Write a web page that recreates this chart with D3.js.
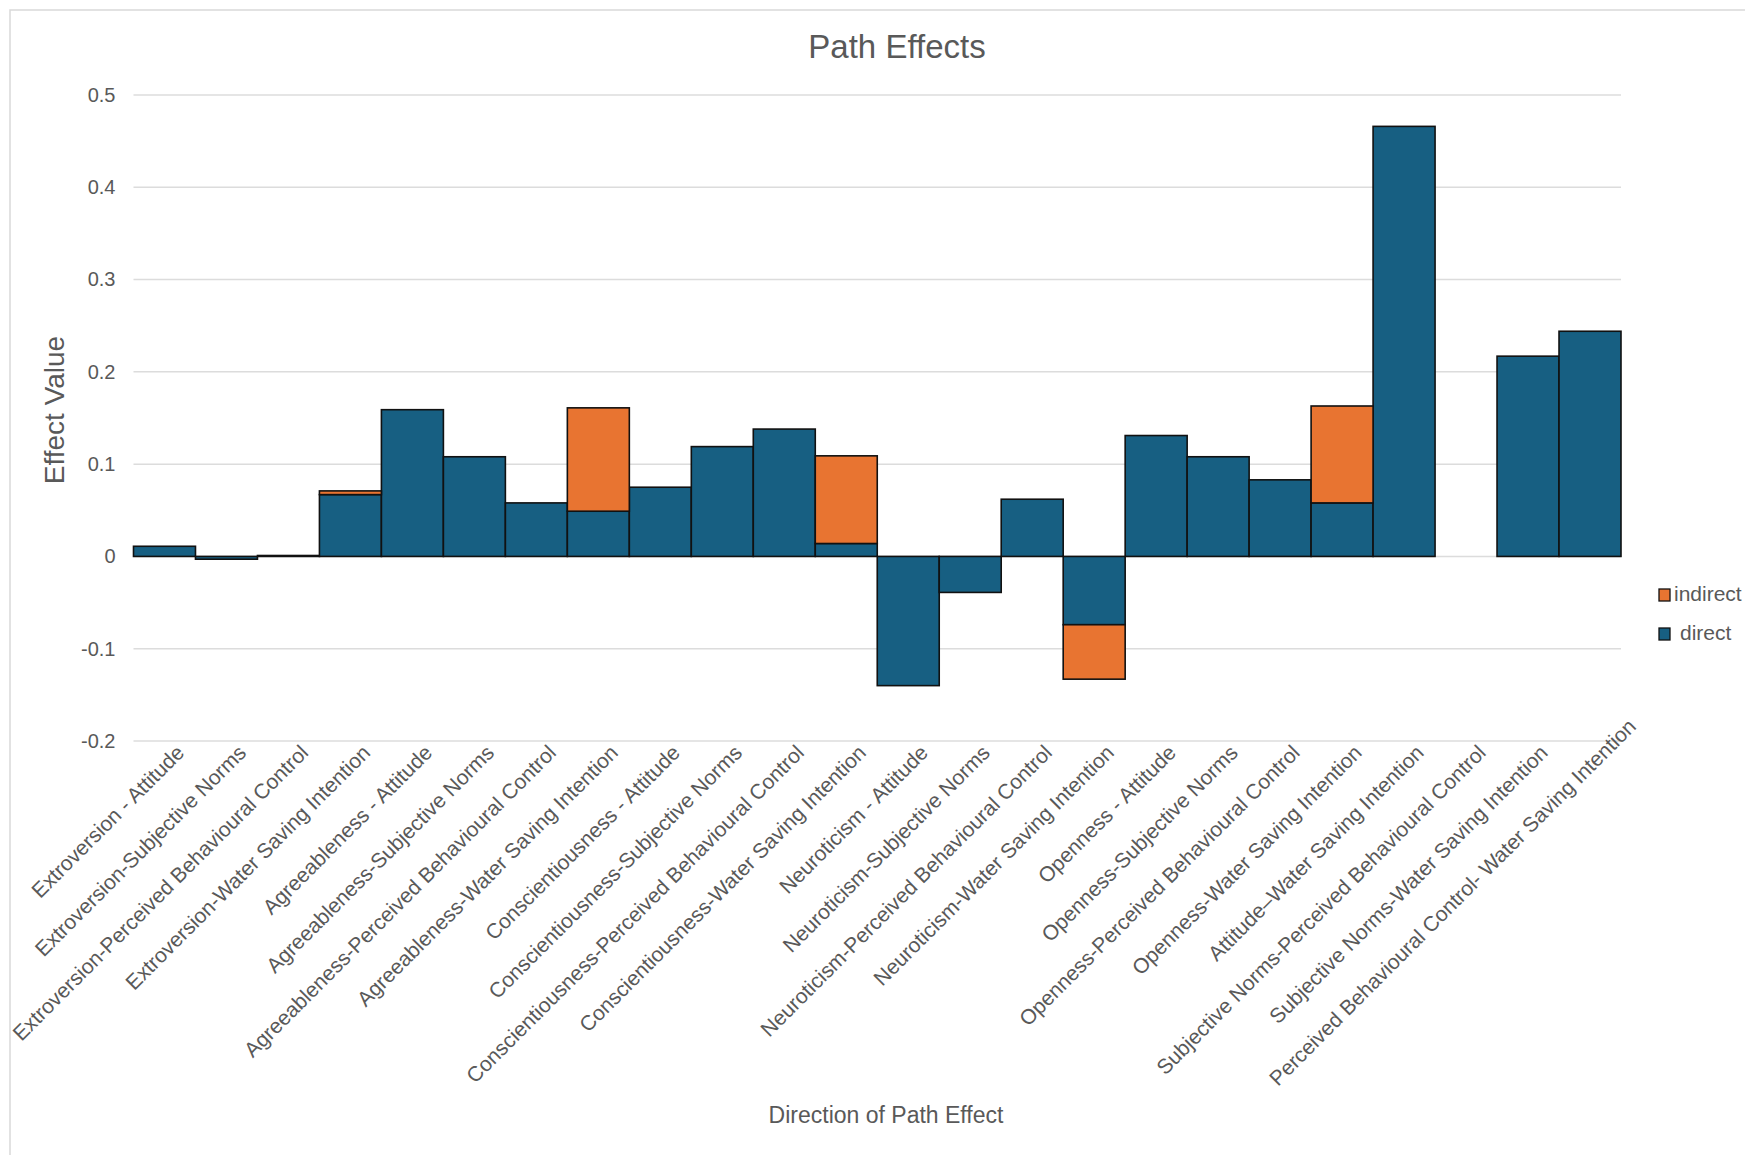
<!DOCTYPE html>
<html>
<head>
<meta charset="utf-8">
<script src="https://cdn.jsdelivr.net/npm/d3@7"></script>
<style>
  html, body { margin: 0; padding: 0; background: #fff; }
  svg { display: block; font-family: "Liberation Sans", Arial, Helvetica, sans-serif; }
</style>
</head>
<body>
<svg id="chart" width="1745" height="1155"></svg>
<script>
// Path effect estimates, one entry per path
const categories = [
  "Extroversion - Attitude",
  "Extroversion-Subjective Norms",
  "Extroversion-Perceived Behavioural Control",
  "Extroversion-Water Saving Intention",
  "Agreeableness - Attitude",
  "Agreeableness-Subjective Norms",
  "Agreeableness-Perceived Behavioural Control",
  "Agreeableness-Water Saving Intention",
  "Conscientiousness - Attitude",
  "Conscientiousness-Subjective Norms",
  "Conscientiousness-Perceived Behavioural Control",
  "Conscientiousness-Water Saving Intention",
  "Neuroticism - Attitude",
  "Neuroticism-Subjective Norms",
  "Neuroticism-Perceived Behavioural Control",
  "Neuroticism-Water Saving Intention",
  "Openness - Attitude",
  "Openness-Subjective Norms",
  "Openness-Perceived Behavioural Control",
  "Openness-Water Saving Intention",
  "Attitude\u2013Water Saving Intention",
  "Subjective Norms-Perceived Behavioural Control",
  "Subjective Norms-Water Saving Intention",
  "Perceived Behavioural Control- Water Saving Intention"
];

const direct = [
  0.011, -0.003, 0.001, 0.067,
  0.159, 0.108, 0.058, 0.049,
  0.075, 0.119, 0.138, 0.014,
  -0.140, -0.039, 0.062, -0.074,
  0.131, 0.108, 0.083, 0.058,
  0.466, null, 0.217, 0.244
];

const indirect = [
  0, 0, 0, 0.004,
  0, 0, 0, 0.112,
  0, 0, 0, 0.095,
  0, 0, 0, -0.059,
  0, 0, 0, 0.105,
  0, null, 0, 0
];

const yTicks = [0.5, 0.4, 0.3, 0.2, 0.1, 0, -0.1, -0.2];
const yTickLabels = ["0.5", "0.4", "0.3", "0.2", "0.1", "0", "-0.1", "-0.2"];

const seriesKeys = ["direct", "indirect"];
const seriesColors = { direct: "#175f82", indirect: "#e87431" };
const legendOrder = ["indirect", "direct"];

const svg = d3.select("#chart");
const textColor = "#595959";

// outer frame
svg.append("rect")
  .attr("x", 10).attr("y", 10)
  .attr("width", 1760).attr("height", 1160)
  .attr("fill", "none")
  .attr("stroke", "#d9d9d9")
  .attr("stroke-width", 1.5);

const plot = { left: 133.5, right: 1621, top: 95, bottom: 741 };

const x = d3.scaleBand()
  .domain(categories)
  .range([plot.left, plot.right])
  .padding(0);

const y = d3.scaleLinear()
  .domain([-0.2, 0.5])
  .range([plot.bottom, plot.top]);

// gridlines
svg.append("g")
  .selectAll("line")
  .data(yTicks)
  .join("line")
  .attr("x1", plot.left)
  .attr("x2", plot.right)
  .attr("y1", d => y(d))
  .attr("y2", d => y(d))
  .attr("stroke", "#dcdcdc")
  .attr("stroke-width", 1.5);

// y axis
const yAxis = svg.append("g")
  .attr("transform", `translate(${plot.left},0)`)
  .call(d3.axisLeft(y)
    .tickValues(yTicks)
    .tickFormat((d, i) => yTickLabels[i])
    .tickSize(0)
    .tickPadding(18));
yAxis.select(".domain").remove();
yAxis.selectAll("text")
  .attr("fill", textColor)
  .style("font-size", "20px")
  .style("font-family", "'Liberation Sans', Arial, sans-serif");

// stacked bars
const rows = categories.map((c, i) => ({
  category: c,
  direct: direct[i] == null ? 0 : direct[i],
  indirect: indirect[i] == null ? 0 : indirect[i],
  missing: direct[i] == null
}));

const stack = d3.stack()
  .keys(seriesKeys)
  .offset(d3.stackOffsetDiverging);
const layers = stack(rows);

svg.append("g")
  .selectAll("g")
  .data(layers)
  .join("g")
  .attr("fill", d => seriesColors[d.key])
  .each(function(layer) {
    d3.select(this)
      .selectAll("rect")
      .data(layer.filter(p => !p.data.missing && p.data[layer.key] !== 0))
      .join("rect")
      .attr("x", p => x(p.data.category))
      .attr("width", x.bandwidth())
      .attr("y", p => y(Math.max(p[0], p[1])))
      .attr("height", p => Math.abs(y(p[0]) - y(p[1])))
      .attr("stroke", "#111")
      .attr("stroke-width", 1.6);
  });

// x axis labels
const xAxis = svg.append("g")
  .attr("transform", `translate(0,${plot.bottom})`)
  .call(d3.axisBottom(x).tickSize(0));
xAxis.select(".domain").remove();

const labelBottomLimit = 1087 - plot.bottom;
xAxis.selectAll(".tick text")
  .attr("fill", textColor)
  .style("font-size", "21px")
  .style("font-family", "'Liberation Sans', Arial, sans-serif")
  .attr("text-anchor", "end")
  .attr("x", 0).attr("y", 0).attr("dy", 0)
  .each(function() {
    const len = this.getComputedTextLength();
    let ax = 21, ay = 13;
    const startY = ay + len * Math.SQRT1_2;
    if (startY > labelBottomLimit) {
      const s = (startY - labelBottomLimit) / Math.SQRT1_2;
      ax += s * Math.SQRT1_2;
      ay -= s * Math.SQRT1_2;
    }
    d3.select(this).attr("transform", `translate(${ax},${ay}) rotate(-45)`);
  });

// title
svg.append("text")
  .attr("x", 897).attr("y", 58)
  .attr("text-anchor", "middle")
  .attr("fill", textColor)
  .style("font-size", "33px")
  .text("Path Effects");

// axis titles
svg.append("text")
  .attr("transform", "translate(64,410) rotate(-90)")
  .attr("text-anchor", "middle")
  .attr("fill", textColor)
  .style("font-size", "28px")
  .text("Effect Value");

svg.append("text")
  .attr("x", 886).attr("y", 1123)
  .attr("text-anchor", "middle")
  .attr("fill", textColor)
  .style("font-size", "23px")
  .text("Direction of Path Effect");

// legend
const legend = svg.append("g");
legendOrder.forEach((key, i) => {
  const ly = 595 + i * 39;
  legend.append("rect")
    .attr("x", 1659).attr("y", ly - 6)
    .attr("width", 11).attr("height", 12)
    .attr("fill", seriesColors[key])
    .attr("stroke", "#111")
    .attr("stroke-width", 1.3);
  legend.append("text")
    .attr("x", key === "direct" ? 1680 : 1674)
    .attr("y", ly)
    .attr("dominant-baseline", "middle")
    .attr("fill", textColor)
    .style("font-size", "21px")
    .text(key);
});
</script>
</body>
</html>
